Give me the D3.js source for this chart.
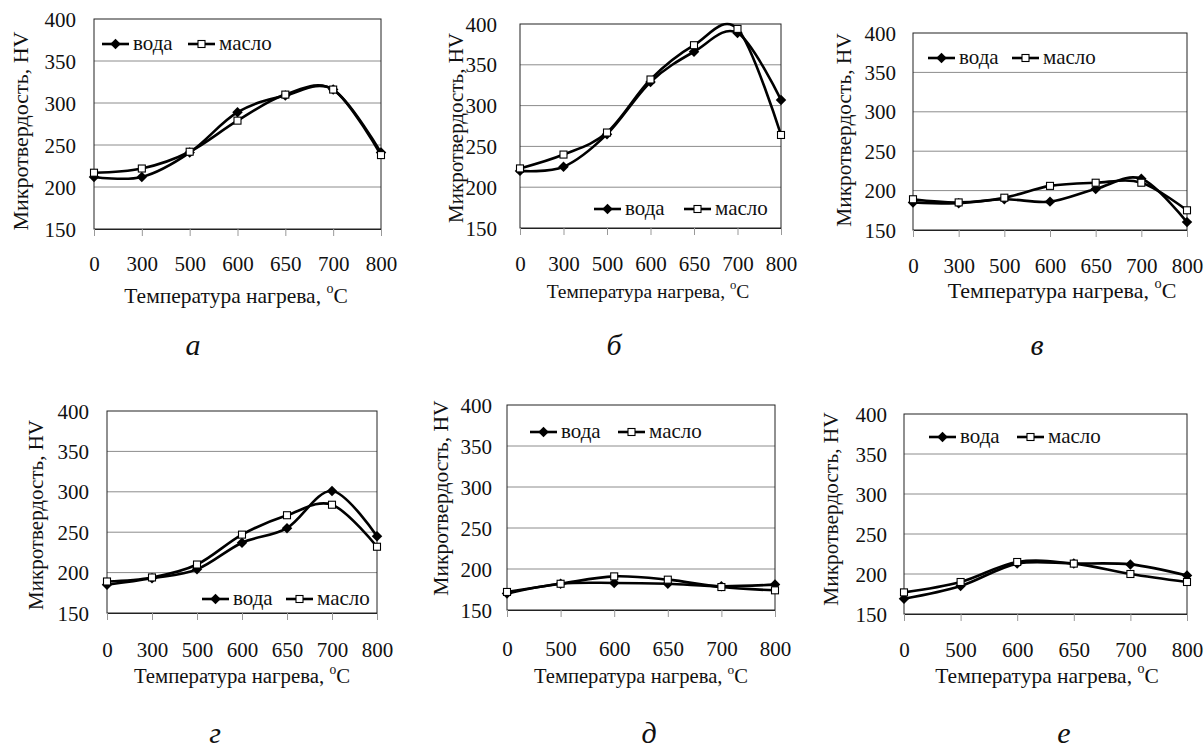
<!DOCTYPE html>
<html>
<head>
<meta charset="utf-8">
<script src="https://cdn.jsdelivr.net/npm/d3@7"></script>
<style>
  body { margin: 0; background: #fff; }
  svg text { font-family: "Liberation Serif", "Times New Roman", serif; fill: #111; }
</style>
</head>
<body>
<div id="chart"></div>
<script>
// Data
const temps7 = ['0', '300', '500', '600', '650', '700', '800'];
const temps6 = ['0', '500', '600', '650', '700', '800'];
const yTicks = [150, 200, 250, 300, 350, 400];
const seriesNames = ['вода', 'масло'];
const panelLetters = ['а', 'б', 'в', 'г', 'д', 'е'];

const vodaA = [212, 212, 241, 289, 309, 316, 241];
const masloA = [217, 222, 242, 279, 310, 316, 238];
const vodaB = [220, 225, 265, 329, 366, 389, 307];
const masloB = [223, 240, 267, 332, 374, 394, 264];
const vodaV = [185, 184, 189, 186, 202, 215, 160];
const masloV = [189, 185, 191, 206, 210, 210, 175];
const vodaG = [185, 193, 204, 237, 255, 301, 245];
const masloG = [189, 194, 210, 247, 271, 284, 232];
const vodaD = [170, 182, 183, 182, 179, 181];
const masloD = [172, 182, 191, 187, 178, 174];
const vodaE = [169, 185, 213, 213, 212, 198];
const masloE = [177, 190, 215, 213, 200, 190];

const yTitle = 'Микротвердость, HV';
const xTitle = 'Температура нагрева, ';

const serif = '"Liberation Serif", "Times New Roman", serif';

// Layout of the six panels
const panels = [
  { temps: temps7, voda: vodaA, maslo: masloA, x0: 94, x1: 381, y0: 19, y1: 229, tickRight: 76, tickBase: 271,
    xTitleX: 236, xTitleBase: 303, xTitleFs: 21.5, yTitleX: 20, yTitleY: 131, yTitleFs: 22,
    leg: [102, 188, 44], lab: [193, 355] },
  { temps: temps7, voda: vodaB, maslo: masloB, x0: 520, x1: 781, y0: 24, y1: 228, tickRight: 497, tickBase: 271,
    xTitleX: 648, xTitleBase: 298, xTitleFs: 19.5, yTitleX: 455, yTitleY: 128, yTitleFs: 21,
    leg: [594, 684, 209], lab: [614, 355] },
  { temps: temps7, voda: vodaV, maslo: masloV, x0: 913, x1: 1187, y0: 33, y1: 230, tickRight: 896, tickBase: 273,
    xTitleX: 1062, xTitleBase: 298, xTitleFs: 22, yTitleX: 843, yTitleY: 130, yTitleFs: 21.4,
    leg: [928, 1012, 58], lab: [1037, 355] },
  { temps: temps7, voda: vodaG, maslo: masloG, x0: 107, x1: 377, y0: 411, y1: 613, tickRight: 89, tickBase: 657,
    xTitleX: 242, xTitleBase: 683, xTitleFs: 20.8, yTitleX: 35, yTitleY: 515, yTitleFs: 21,
    leg: [202, 286, 599], lab: [215, 743] },
  { temps: temps6, voda: vodaD, maslo: masloD, x0: 507, x1: 775, y0: 405, y1: 610, tickRight: 492, tickBase: 656,
    xTitleX: 641, xTitleBase: 683, xTitleFs: 20.6, yTitleX: 440, yTitleY: 498, yTitleFs: 21.6,
    leg: [530, 618, 432], lab: [649, 743] },
  { temps: temps6, voda: vodaE, maslo: masloE, x0: 904, x1: 1187, y0: 414, y1: 614, tickRight: 887, tickBase: 657,
    xTitleX: 1047, xTitleBase: 683, xTitleFs: 21.5, yTitleX: 830, yTitleY: 509, yTitleFs: 21.4,
    leg: [929, 1017, 437], lab: [1064, 743] }
];

const svg = d3.select('#chart')
  .append('svg')
  .attr('width', 1204)
  .attr('height', 752);

svg.append('rect').attr('width', 1204).attr('height', 752).attr('fill', '#fff');

const diamond = d3.symbol().type(d3.symbolDiamond2).size(70);

function marker(g, kind, cx, cy) {
  if (kind === 0) {
    g.append('path').attr('d', diamond()).attr('transform', `translate(${cx},${cy})`)
      .attr('fill', '#000');
  } else {
    g.append('rect').attr('x', cx - 3.5).attr('y', cy - 3.5).attr('width', 7).attr('height', 7)
      .attr('fill', '#fff').attr('stroke', '#000').attr('stroke-width', 1.1);
  }
}

panels.forEach((p, i) => {
  const g = svg.append('g');

  // Scales
  const xScale = d3.scalePoint().domain(p.temps).range([p.x0, p.x1]);
  const yScale = d3.scaleLinear().domain([150, 400]).range([p.y1, p.y0]);

  // Gridlines
  g.append('g').selectAll('line')
    .data(yTicks.slice(1, -1))
    .join('line')
    .attr('x1', p.x0).attr('x2', p.x1)
    .attr('y1', d => yScale(d)).attr('y2', d => yScale(d))
    .attr('stroke', '#8c8c8c').attr('stroke-width', 1);

  // Frame
  g.append('rect')
    .attr('x', p.x0).attr('y', p.y0)
    .attr('width', p.x1 - p.x0).attr('height', p.y1 - p.y0)
    .attr('fill', 'none').attr('stroke', '#222').attr('stroke-width', 1);

  // Y axis labels
  const yAxis = d3.axisLeft(yScale).tickValues(yTicks).tickSize(0).tickPadding(0);
  const ya = g.append('g').attr('transform', `translate(${p.tickRight},0)`).call(yAxis);
  ya.select('.domain').remove();
  ya.attr('font-family', serif);
  ya.selectAll('text').attr('font-size', 21).attr('dy', '0.34em').attr('fill', '#111');

  // X axis
  const xAxis = d3.axisBottom(xScale).tickSize(7).tickSizeOuter(0);
  const xa = g.append('g').attr('transform', `translate(0,${p.y1})`).call(xAxis);
  xa.attr('font-family', serif);
  xa.select('.domain').attr('stroke', '#222');
  xa.selectAll('.tick line').attr('stroke', '#999');
  xa.selectAll('text').attr('font-size', 21).attr('dy', null)
    .attr('y', p.tickBase - p.y1).attr('fill', '#111');

  // Curves
  const line = d3.line()
    .x((d, j) => xScale(p.temps[j]))
    .y(d => yScale(d))
    .curve(d3.curveCatmullRom.alpha(0));

  [p.voda, p.maslo].forEach(vals => {
    g.append('path')
      .datum(vals)
      .attr('d', line)
      .attr('fill', 'none')
      .attr('stroke', '#000')
      .attr('stroke-width', 2.6);
  });
  [p.voda, p.maslo].forEach((vals, k) => {
    vals.forEach((v, j) => marker(g, k, xScale(p.temps[j]), yScale(v)));
  });

  // Legend
  seriesNames.forEach((name, k) => {
    const lx = p.leg[k];
    const ly = p.leg[2];
    g.append('line')
      .attr('x1', lx).attr('x2', lx + 27)
      .attr('y1', ly).attr('y2', ly)
      .attr('stroke', '#000').attr('stroke-width', 2.6);
    marker(g, k, lx + 13.5, ly);
    g.append('text')
      .attr('x', lx + 31).attr('y', ly + 6)
      .attr('font-family', serif)
      .attr('font-size', 21)
      .text(name);
  });

  // Axis titles
  const xt = g.append('text')
    .attr('x', p.xTitleX).attr('y', p.xTitleBase)
    .attr('text-anchor', 'middle')
    .attr('font-family', serif)
    .attr('font-size', p.xTitleFs)
    .text(xTitle);
  xt.append('tspan').attr('font-size', p.xTitleFs * 0.65).attr('dy', -p.xTitleFs * 0.45).text('o');
  xt.append('tspan').attr('dy', p.xTitleFs * 0.45).text('C');

  g.append('text')
    .attr('transform', `translate(${p.yTitleX + p.yTitleFs * 0.36},${p.yTitleY}) rotate(-90)`)
    .attr('text-anchor', 'middle')
    .attr('font-family', serif)
    .attr('font-size', p.yTitleFs)
    .text(yTitle);

  // Panel letter
  svg.append('text')
    .attr('x', p.lab[0]).attr('y', p.lab[1])
    .attr('text-anchor', 'middle')
    .attr('font-family', serif)
    .attr('font-size', 30)
    .attr('font-style', 'italic')
    .text(panelLetters[i]);
});
</script>
</body>
</html>
